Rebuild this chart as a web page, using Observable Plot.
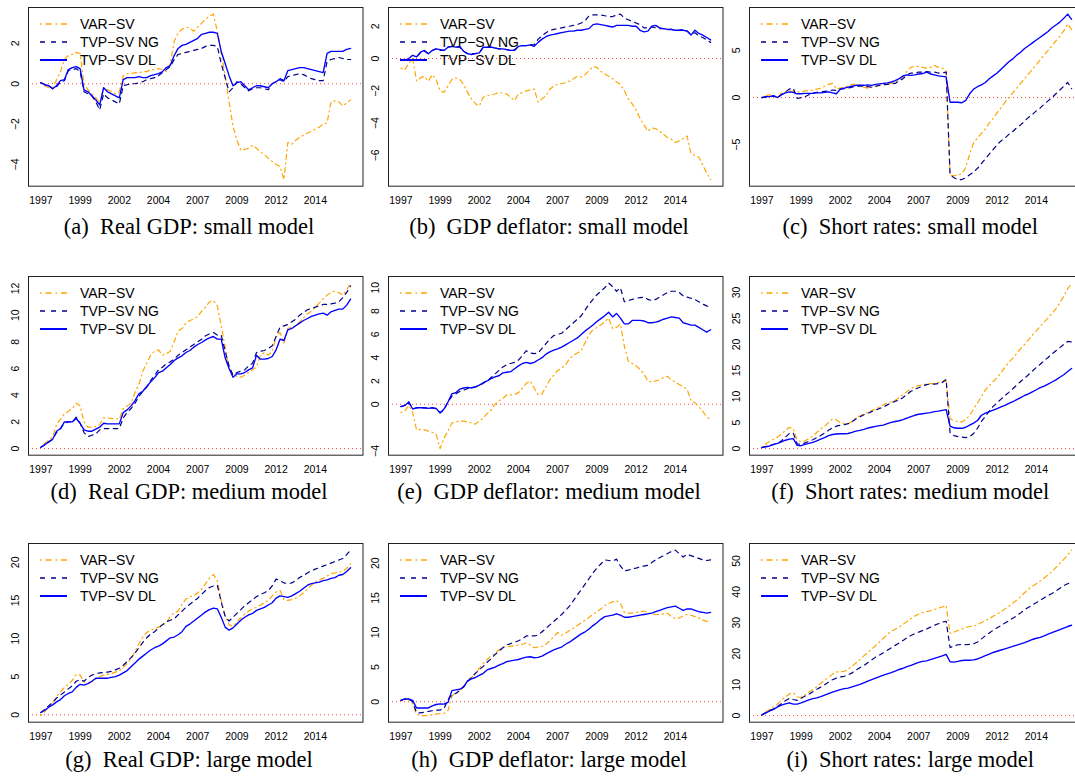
<!DOCTYPE html>
<html>
<head>
<meta charset="utf-8">
<script src="https://cdn.jsdelivr.net/npm/d3@7"></script>
<script src="https://cdn.jsdelivr.net/npm/@observablehq/plot@0.6"></script>
<style>
  html, body { margin: 0; padding: 0; background: #fff; overflow: hidden; }
  #root { position: relative; width: 1075px; height: 776px; overflow: hidden; }
  .panel { position: absolute; }
  .cap { position: absolute; font-family: "Liberation Serif", "Times New Roman", serif; font-size: 22.5px; line-height: 1; white-space: pre; color: #000; transform: translateX(-50%); }
</style>
</head>
<body>
<div id="root"></div>
<script>
// ---------- data (quarterly index 0 = 1997Q1 ... 79 = 2016Q4) ----------
const xLabels = ["1997","1999","2002","2004","2007","2009","2012","2014"];
const seriesNames = ["VAR\u2212SV", "TVP\u2212SV NG", "TVP\u2212SV DL"];

// (a) Real GDP: small model
const varSV_a = [0.05,-0.1,-0.2,-0.2,0.2,0.6,1.2,1.4,1.45,1.55,
1.5,0.0,-0.3,-0.5,-0.7,-0.95,-0.2,-0.3,-0.4,-0.5,
-0.4,0.4,0.5,0.5,0.55,0.55,0.6,0.6,0.7,0.7,
0.75,0.7,0.6,1.0,2.1,2.5,2.7,2.8,2.75,2.6,
2.8,3.0,3.2,3.35,3.45,2.6,1.5,0.4,-0.9,-2.1,
-2.8,-3.3,-3.25,-3.2,-3.05,-3.2,-3.4,-3.5,-3.7,-3.85,
-4.0,-4.1,-4.75,-2.9,-3.0,-2.8,-2.65,-2.55,-2.45,-2.35,
-2.25,-2.15,-2.0,-1.95,-0.9,-0.85,-0.9,-1.1,-0.95,-0.8];
const tvpNG_a = [0.05,-0.05,-0.1,-0.25,-0.15,0.1,0.15,0.65,0.7,0.75,
0.6,-0.4,-0.5,-0.6,-0.9,-1.3,-0.5,-0.7,-0.8,-0.9,
-1.0,-0.1,-0.05,0.0,0.0,0.05,0.1,0.2,0.25,0.3,
0.4,0.55,0.7,0.85,1.2,1.45,1.5,1.55,1.6,1.65,
1.7,1.75,1.85,1.9,1.9,1.85,1.0,0.3,-0.4,-0.2,
0.1,0.0,-0.2,-0.35,-0.25,-0.2,-0.2,-0.25,-0.3,0.0,
0.1,0.2,0.1,0.35,0.4,0.45,0.5,0.45,0.35,0.25,
0.2,0.15,0.15,1.1,1.2,1.25,1.3,1.25,1.2,1.2];
const tvpDL_a = [0.05,-0.05,-0.1,-0.25,-0.1,0.15,0.2,0.7,0.8,0.85,
0.75,-0.3,-0.4,-0.6,-0.8,-1.05,-0.2,-0.4,-0.5,-0.6,
-0.7,0.2,0.3,0.3,0.3,0.35,0.3,0.3,0.4,0.45,
0.5,0.6,0.8,0.9,1.4,1.75,1.9,1.95,2.05,2.15,
2.25,2.45,2.5,2.55,2.55,2.5,1.6,1.0,0.4,-0.1,
0.05,0.1,-0.1,-0.3,-0.2,-0.1,-0.1,-0.15,-0.2,0.0,
0.1,0.25,0.15,0.65,0.7,0.75,0.8,0.8,0.75,0.7,
0.65,0.6,0.55,1.5,1.6,1.6,1.6,1.6,1.7,1.75];

// (b) GDP deflator: small model
const varSV_b = [-0.6,-0.7,-0.3,0.0,-1.4,-1.2,-1.1,-1.4,-1.0,-1.3,
-2.0,-2.1,-1.7,-1.3,-1.2,-1.3,-1.6,-2.1,-2.5,-2.8,
-2.95,-2.4,-2.3,-2.25,-2.2,-2.1,-2.15,-2.2,-2.4,-2.6,
-2.2,-2.1,-2.0,-1.95,-1.9,-2.7,-2.5,-2.3,-1.9,-1.7,
-1.6,-1.55,-1.5,-1.4,-1.25,-1.1,-1.15,-1.0,-0.75,-0.5,
-0.55,-0.8,-0.95,-1.1,-1.25,-1.45,-1.6,-2.0,-2.5,-2.8,
-3.2,-3.7,-4.1,-4.5,-4.3,-4.35,-4.5,-4.7,-4.9,-5.0,
-5.2,-5.1,-4.95,-4.8,-5.9,-6.0,-6.1,-6.6,-7.1,-7.5];
const tvpNG_b = [-0.05,-0.1,-0.1,-0.1,0.1,0.35,0.45,0.3,0.5,0.6,
0.5,0.5,0.7,0.75,0.7,0.7,0.45,0.3,0.3,0.3,
0.35,0.7,0.7,0.7,0.65,0.6,0.6,0.55,0.5,0.55,
0.75,0.8,0.8,0.85,0.85,1.2,1.4,1.6,1.75,1.8,
1.85,1.9,1.95,2.0,2.05,2.1,2.2,2.35,2.65,2.7,
2.7,2.7,2.65,2.6,2.6,2.7,2.75,2.5,2.4,2.3,
2.2,2.1,1.9,1.9,1.95,1.9,1.85,1.85,1.8,1.8,
1.75,1.75,1.8,1.7,1.5,1.6,1.4,1.3,1.15,1.0];
const tvpDL_b = [-0.1,-0.1,0.0,0.2,0.1,0.4,0.5,0.3,0.5,0.6,
0.55,0.5,0.7,0.75,0.7,0.75,0.45,0.3,0.25,0.3,
0.35,0.7,0.7,0.7,0.65,0.6,0.6,0.55,0.5,0.5,
0.75,0.8,0.8,0.85,0.75,1.0,1.2,1.35,1.45,1.5,
1.55,1.6,1.65,1.7,1.7,1.75,1.75,1.8,1.85,2.1,
2.15,2.1,2.05,2.0,1.95,2.05,2.05,2.05,2.05,2.0,
2.0,1.75,1.65,1.7,2.0,2.05,1.9,1.85,1.8,1.8,
1.75,1.75,1.75,1.7,1.45,1.75,1.55,1.45,1.3,1.15];

// (c) Short rates: small model
const varSV_c = [0.0,0.2,0.3,0.1,0.0,0.5,0.6,0.7,0.65,0.6,
0.6,0.7,0.75,0.8,0.9,1.0,1.2,1.4,1.5,0.9,
1.0,1.1,1.2,1.4,1.4,1.3,1.1,1.0,1.1,1.2,
1.3,1.4,1.5,1.5,1.6,1.9,2.2,2.8,3.2,3.3,
3.3,3.2,3.1,3.2,3.4,3.2,3.1,2.9,-8.2,-8.3,
-8.2,-8.1,-7.4,-6.0,-4.8,-4.3,-3.8,-3.3,-2.7,-2.2,
-1.6,-1.1,-0.5,0.0,0.5,1.0,1.5,2.0,2.5,3.0,
3.5,4.0,4.5,5.0,5.5,6.0,6.5,7.1,7.8,7.2];
const tvpNG_c = [0.0,0.05,0.1,0.15,0.0,0.3,0.6,0.9,1.0,-0.1,
0.0,0.1,0.3,0.5,0.55,0.6,0.65,0.7,0.8,0.75,
0.9,0.95,1.0,1.1,1.2,1.2,1.2,1.15,1.1,1.2,
1.3,1.35,1.4,1.45,1.5,1.8,2.0,2.4,2.6,2.6,
2.7,2.7,2.75,2.7,2.7,2.6,2.6,2.7,-8.2,-8.5,
-8.7,-8.7,-8.5,-8.2,-7.9,-7.5,-7.0,-6.5,-6.0,-5.5,
-5.0,-4.6,-4.3,-3.9,-3.6,-3.2,-2.9,-2.5,-2.1,-1.8,
-1.4,-1.1,-0.7,-0.35,0.0,0.4,0.8,1.2,1.6,0.95];
const tvpDL_c = [0.0,0.1,0.1,0.2,0.0,0.3,0.5,0.6,0.55,0.4,
0.4,0.45,0.45,0.45,0.5,0.5,0.55,0.6,0.5,0.4,
0.9,1.0,1.1,1.2,1.3,1.3,1.3,1.35,1.3,1.4,
1.45,1.5,1.55,1.65,1.8,2.0,2.3,2.4,2.35,2.4,
2.5,2.55,2.7,2.5,2.4,2.3,2.25,2.2,-0.5,-0.5,
-0.5,-0.55,-0.3,0.4,0.9,1.15,1.35,1.6,2.0,2.3,
2.6,3.0,3.4,3.8,4.1,4.5,4.8,5.2,5.5,5.8,
6.1,6.4,6.7,7.0,7.4,7.7,8.0,8.4,8.85,8.3];

// (d) Real GDP: medium model
const varSV_d = [0.1,0.4,0.6,0.9,1.8,2.2,2.6,2.8,3.0,3.4,
3.2,2.0,1.6,1.6,1.65,1.8,2.3,2.3,2.25,2.25,
2.2,3.0,3.2,3.4,4.2,4.8,5.8,6.4,7.0,7.3,
7.4,7.0,7.1,7.3,8.0,8.8,9.0,9.4,9.6,9.7,
9.9,10.3,10.6,11.0,11.1,10.7,9.2,7.6,6.0,5.6,
5.4,5.35,5.5,5.7,5.9,6.1,7.0,7.2,7.0,7.3,
8.4,8.7,7.9,9.0,9.1,9.2,9.5,9.8,10.1,10.3,
10.6,10.9,11.2,11.5,11.7,11.8,11.7,11.5,11.9,12.4];
const tvpNG_d = [0.1,0.3,0.5,0.7,1.2,1.5,1.9,2.0,2.0,2.35,
1.9,1.2,0.9,1.0,1.1,1.4,1.5,1.5,1.5,1.5,
1.5,2.3,2.7,3.0,3.4,3.9,4.3,4.6,5.1,5.5,
5.9,6.1,6.35,6.5,6.7,7.0,7.2,7.4,7.6,7.8,
8.0,8.2,8.45,8.6,8.7,8.5,8.5,7.3,6.2,5.5,
5.7,5.8,5.9,6.2,6.4,7.2,7.3,7.35,7.5,7.7,
8.4,9.1,9.2,9.3,9.5,9.7,10.0,10.2,10.4,10.5,
10.6,10.7,10.8,10.8,10.85,10.9,11.0,11.3,11.7,12.2];
const tvpDL_d = [0.1,0.3,0.5,0.7,1.3,1.5,2.0,2.0,2.0,2.25,
1.9,1.4,1.3,1.3,1.45,1.6,1.9,1.85,1.85,1.85,
1.85,2.7,2.9,3.2,3.6,4.1,4.3,4.65,5.0,5.3,
5.7,5.8,6.05,6.3,6.6,6.8,6.95,7.2,7.35,7.6,
7.8,7.95,8.15,8.3,8.4,8.2,8.2,6.8,6.0,5.35,
5.6,5.6,5.7,5.9,6.05,7.0,6.7,6.7,6.75,6.9,
7.4,8.2,8.1,8.9,9.0,9.2,9.4,9.6,9.75,9.9,
10.0,10.1,10.15,10.0,10.25,10.35,10.45,10.45,10.75,11.2];

// (e) GDP deflator: medium model
const varSV_e = [-0.7,-0.6,-0.1,-0.7,-2.2,-2.15,-2.2,-2.3,-2.4,-2.6,
-3.8,-2.9,-2.3,-1.6,-1.5,-1.45,-1.45,-1.5,-1.6,-1.7,
-1.4,-1.2,-0.8,-0.5,0.0,0.3,0.5,0.8,0.8,0.85,
1.0,1.4,1.8,2.0,1.4,0.8,0.9,1.5,2.1,2.5,
2.9,3.1,3.4,3.9,4.2,4.4,4.6,5.3,6.0,6.4,
6.6,6.8,7.1,7.4,6.5,6.6,6.9,5.0,3.7,3.5,
3.3,3.0,2.6,2.0,1.9,2.0,2.1,2.3,2.4,2.1,
1.9,1.7,1.5,1.3,0.3,0.15,-0.2,-0.6,-1.1,-1.3];
const tvpNG_e = [-0.2,-0.1,0.2,-0.4,-0.3,-0.3,-0.3,-0.35,-0.3,-0.4,
-0.7,-0.5,0.2,0.7,0.9,1.1,1.2,1.35,1.45,1.5,
1.6,1.8,2.0,2.3,2.6,2.9,3.2,3.4,3.5,3.6,
3.8,4.2,4.6,4.4,4.35,4.4,4.8,5.2,5.6,5.9,
6.0,6.1,6.4,6.7,7.0,7.3,7.6,8.1,8.6,9.0,
9.4,9.7,10.0,10.4,10.1,9.7,10.0,8.8,8.9,9.0,
9.1,9.15,9.2,9.0,8.9,9.0,9.2,9.4,9.6,9.7,
9.7,9.6,9.3,9.2,9.1,9.0,8.8,8.6,8.45,8.3];
const tvpDL_e = [-0.2,-0.1,0.2,-0.4,-0.3,-0.3,-0.3,-0.35,-0.3,-0.35,
-0.75,-0.4,0.2,0.9,1.0,1.3,1.4,1.45,1.4,1.5,
1.65,1.85,2.0,2.2,2.35,2.45,2.7,2.75,2.8,3.05,
3.3,3.5,3.6,3.5,3.6,3.8,4.0,4.3,4.5,4.65,
4.75,4.9,5.1,5.3,5.5,5.7,6.0,6.3,6.55,6.8,
7.1,7.35,7.6,7.9,7.5,7.8,7.4,6.9,6.9,7.2,
7.2,7.2,7.15,7.0,7.0,7.05,7.15,7.3,7.4,7.5,
7.45,7.4,7.0,6.9,6.8,6.8,6.6,6.4,6.2,6.4];

// (f) Short rates: medium model
const varSV_f = [0.2,0.9,1.4,1.8,2.2,2.8,3.5,4.1,3.8,1.6,
1.3,1.5,1.9,2.4,3.1,3.8,4.3,5.0,5.7,5.5,
5.0,4.85,4.75,5.2,5.9,6.3,6.6,7.0,7.3,7.6,
8.0,8.4,8.8,9.0,9.3,9.8,10.4,10.9,11.5,11.9,
12.1,12.3,12.4,12.5,12.5,12.7,12.9,13.0,5.8,5.3,
5.2,5.1,5.6,6.4,7.6,8.8,10.0,11.3,12.1,12.9,
13.6,14.6,15.6,16.6,17.4,18.3,19.2,20.0,20.9,21.8,
22.6,23.5,24.3,25.1,26.0,26.9,28.0,29.3,30.7,31.8];
const tvpNG_f = [0.2,0.4,0.6,0.8,1.0,1.5,2.2,2.9,3.0,0.9,
0.8,1.1,1.4,1.7,2.1,2.5,3.0,3.5,4.0,4.3,
4.5,4.6,4.8,5.2,5.7,6.1,6.5,6.8,7.1,7.4,
7.7,8.0,8.4,8.8,9.1,9.3,9.8,10.4,11.0,11.4,
11.7,12.0,12.3,12.4,12.4,12.5,12.7,13.3,3.0,2.5,
2.3,2.2,2.1,2.3,2.9,3.9,5.2,6.2,7.2,8.1,
8.8,9.5,10.2,10.8,11.5,12.2,12.9,13.5,14.2,14.9,
15.6,16.2,16.9,17.5,18.2,18.8,19.4,20.0,20.6,20.5];
const tvpDL_f = [0.2,0.35,0.5,0.8,1.0,1.3,1.6,1.8,1.9,0.6,
0.55,0.8,1.0,1.2,1.5,1.8,2.1,2.5,2.7,2.8,
2.85,2.85,2.9,3.1,3.35,3.5,3.7,3.95,4.1,4.25,
4.4,4.5,4.8,5.05,5.2,5.35,5.55,5.85,6.15,6.4,
6.6,6.7,6.8,6.9,7.1,7.2,7.35,7.5,4.3,4.0,
3.9,3.9,4.1,4.5,4.9,5.4,6.4,6.8,7.1,7.4,
7.7,8.0,8.3,8.7,9.0,9.4,9.8,10.2,10.5,10.9,
11.3,11.7,12.0,12.4,12.8,13.2,13.7,14.2,14.8,15.4];

// (g) Real GDP: large model
const varSV_g = [-0.1,0.4,1.1,1.6,2.4,3.0,3.6,4.0,4.5,5.3,
5.2,4.3,4.1,4.3,4.7,5.0,5.2,5.3,5.4,5.6,
5.8,6.2,6.8,7.3,8.3,9.3,10.2,10.8,11.1,11.3,
11.5,11.7,12.1,12.9,13.4,13.6,14.5,15.2,15.5,15.6,
16.0,16.5,17.2,17.9,18.4,17.6,15.0,13.0,11.8,11.6,
12.2,12.7,13.2,13.6,13.9,14.1,14.4,14.7,15.0,15.6,
16.1,16.3,15.1,15.0,15.1,15.3,15.6,16.0,16.5,17.0,
17.4,17.7,17.9,18.2,18.5,18.6,18.7,18.8,19.2,19.8];
const tvpNG_g = [0.3,0.7,1.2,1.6,2.2,2.6,3.0,3.4,3.8,4.4,
4.6,4.4,4.9,5.2,5.4,5.5,5.55,5.6,5.7,5.9,
6.1,6.5,7.0,7.5,8.1,8.8,9.5,10.1,10.6,10.9,
11.4,11.8,12.2,12.4,12.6,13.1,13.6,14.1,14.5,14.9,
15.3,15.8,16.3,16.7,16.9,17.0,14.8,12.9,12.3,12.8,
13.3,13.8,14.3,14.7,15.1,15.5,15.8,16.0,16.3,16.9,
17.8,17.6,17.3,17.2,17.3,17.6,18.0,18.3,18.6,18.9,
19.1,19.3,19.5,19.7,19.9,20.1,20.3,20.5,21.0,21.6];
const tvpDL_g = [0.3,0.6,1.0,1.3,1.7,2.0,2.5,2.8,3.0,3.6,
4.0,3.9,4.1,4.4,4.8,4.8,4.8,4.8,4.9,5.0,
5.2,5.5,5.8,6.3,6.8,7.3,7.7,8.1,8.5,8.8,
9.0,9.3,9.7,10.1,10.2,10.5,10.9,11.6,11.9,12.3,
12.7,13.1,13.5,13.8,14.0,13.9,12.8,11.5,11.1,11.4,
11.9,12.4,12.8,13.1,13.3,13.7,13.9,14.1,14.4,14.7,
15.3,15.6,15.5,15.4,15.6,15.9,16.2,16.6,17.0,17.2,
17.3,17.4,17.6,17.7,17.9,18.0,18.3,18.4,18.8,19.3];

// (h) GDP deflator: large model
const varSV_h = [0.1,0.4,0.3,-0.3,-1.8,-2.0,-2.0,-2.0,-1.9,-1.8,
-1.7,-1.7,-1.3,0.8,1.3,1.5,2.2,3.0,3.5,4.1,
4.8,5.5,6.1,6.6,7.0,7.5,7.8,8.0,8.0,8.1,
8.2,8.3,8.5,8.2,7.8,7.9,8.0,8.3,8.8,9.4,
10.0,9.6,9.9,10.3,10.6,11.0,11.4,11.8,12.2,12.6,
13.0,13.4,13.9,14.2,14.4,14.6,14.2,12.9,12.8,12.8,
12.9,13.0,13.1,12.9,12.7,12.6,12.6,12.7,12.8,12.3,
12.0,12.1,12.4,12.6,12.5,12.3,12.1,11.8,11.6,11.7];
const tvpNG_h = [0.2,0.4,0.4,0.0,-1.6,-1.6,-1.5,-1.4,-1.3,-1.2,
-1.2,-1.0,0.3,1.0,1.2,1.6,2.2,2.9,3.5,4.1,
4.6,5.1,5.7,6.2,6.8,7.3,7.8,8.2,8.4,8.6,
8.8,9.1,9.5,9.5,9.5,9.6,10.1,10.6,11.1,11.6,
12.1,12.6,13.2,13.8,14.6,15.4,16.2,17.0,17.8,18.6,
19.3,19.9,20.5,20.4,20.3,20.6,19.6,18.9,19.0,19.2,
19.3,19.5,19.6,19.7,20.1,20.5,20.8,21.1,21.4,21.7,
21.9,21.4,20.9,21.3,21.1,20.9,20.7,20.5,20.4,20.5];
const tvpDL_h = [0.2,0.4,0.4,0.2,-0.9,-0.9,-0.9,-0.9,-0.6,-0.4,
-0.3,-0.35,-0.1,1.6,1.7,1.8,2.1,3.0,3.3,3.5,
3.8,4.1,4.6,4.8,5.0,5.3,5.5,5.8,5.9,6.0,
6.1,6.3,6.45,6.5,6.35,6.4,6.6,6.9,7.2,7.5,
7.7,7.9,8.3,8.6,9.0,9.4,9.8,10.1,10.5,11.0,
11.4,11.9,12.3,12.4,12.5,12.7,12.5,12.2,12.2,12.3,
12.4,12.5,12.6,12.7,12.8,13.0,13.2,13.4,13.6,13.7,
13.8,13.5,13.2,13.4,13.4,13.2,13.0,12.9,12.8,12.9];

// (i) Short rates: large model
const varSV_i = [0.2,1.2,2.0,2.8,3.8,5.0,6.0,7.0,7.4,6.0,
5.9,6.6,7.6,8.4,9.3,10.4,11.4,12.4,13.4,14.1,
14.2,14.3,15.0,15.9,17.0,18.1,19.3,20.4,21.5,22.6,
23.8,25.0,26.3,27.2,27.9,28.6,29.5,30.4,31.3,32.2,
32.8,33.3,33.6,33.9,34.3,34.7,35.1,35.6,26.6,27.0,
27.5,28.0,28.5,28.8,28.9,29.4,30.1,30.7,31.4,32.1,
32.8,33.6,34.5,35.4,36.4,37.3,38.5,39.7,40.9,41.8,
42.6,43.5,44.5,45.5,46.6,47.9,49.2,50.5,52.0,53.5];
const tvpNG_i = [0.2,1.0,1.6,2.2,3.0,3.8,4.8,5.6,5.2,4.9,
5.6,6.3,6.9,7.7,8.5,9.2,10.0,10.8,11.6,12.1,
12.5,12.7,13.2,13.8,14.7,15.5,16.2,17.1,18.0,18.9,
19.6,20.3,21.1,21.9,22.7,23.5,24.3,25.1,25.9,26.5,
27.0,27.5,28.0,28.6,29.2,29.7,30.2,30.5,22.0,22.5,
22.9,23.0,22.9,23.0,23.2,23.8,24.8,25.8,26.7,27.6,
28.4,29.1,29.9,30.7,31.5,32.3,33.2,34.2,35.0,35.8,
36.5,37.3,38.1,38.8,39.5,40.3,41.2,42.0,42.6,43.2];
const tvpDL_i = [0.2,0.9,1.5,2.0,2.8,3.4,3.8,4.1,3.7,3.7,
4.1,4.6,5.1,5.5,5.7,6.1,6.6,7.1,7.6,8.0,
8.4,8.7,8.9,9.3,9.7,10.1,10.6,11.1,11.6,12.1,
12.6,13.1,13.5,13.9,14.4,14.9,15.3,15.8,16.2,16.7,
17.2,17.5,17.7,18.1,18.5,18.9,19.3,19.8,17.4,17.3,
17.5,17.8,17.9,17.9,18.0,18.3,18.8,19.4,19.9,20.4,
20.8,21.2,21.6,22.0,22.4,22.8,23.2,23.6,24.1,24.6,
25.0,25.3,25.8,26.3,26.8,27.3,27.8,28.3,28.8,29.2];

const panelTitles = ["Real GDP: small model","GDP deflator: small model","Short rates: small model",
  "Real GDP: medium model","GDP deflator: medium model","Short rates: medium model",
  "Real GDP: large model","GDP deflator: large model","Short rates: large model"];
const panelLetters = ["a","b","c","d","e","f","g","h","i"];
const yTicks = [[-4,-2,0,2],[-6,-4,-2,0,2],[-5,0,5],
  [0,2,4,6,8,10,12],[-4,0,2,4,6,8,10],[0,5,10,15,20,25,30],
  [0,5,10,15,20],[0,5,10,15,20],[0,10,20,30,40,50]];
const varSV = [varSV_a,varSV_b,varSV_c,varSV_d,varSV_e,varSV_f,varSV_g,varSV_h,varSV_i];
const tvpNG = [tvpNG_a,tvpNG_b,tvpNG_c,tvpNG_d,tvpNG_e,tvpNG_f,tvpNG_g,tvpNG_h,tvpNG_i];
const tvpDL = [tvpDL_a,tvpDL_b,tvpDL_c,tvpDL_d,tvpDL_e,tvpDL_f,tvpDL_g,tvpDL_h,tvpDL_i];

// ---------- styles ----------
const styles = [
  {color: "#FFA500", dash: "1.2,3.6,4.8,3.6", width: 1.2},
  {color: "#00008B", dash: "4.5,4.5", width: 1.2},
  {color: "#0000FF", dash: null, width: 1.35}
];
const legendStyles = [
  {color: "#FFA500", dash: "1.5,4,6,4", width: 1.3},
  {color: "#00008B", dash: "5,6", width: 1.3},
  {color: "#0000FF", dash: null, width: 2}
];

// ---------- layout ----------
const boxLeft = [28, 388, 749.3];
const boxTop = [7.3, 275.7, 543.3];
const capBase = [234.3, 499.3, 767.7];
const mL = 28, mT = 7, mR = 1, mB = 25, boxW = 334.5, boxH = 178.7;
const nQ = 80;
const xPad = (nQ - 1) * 0.04;

function legendMark() {
  return (index, scales, values, d) => {
    const g = d3.create("svg:g").attr("text-anchor", "start");
    seriesNames.forEach((name, k) => {
      const st = legendStyles[k];
      const y = d.marginTop + 17 + k * 18;
      const ln = g.append("line")
        .attr("x1", d.marginLeft + 12).attr("x2", d.marginLeft + 39)
        .attr("y1", y).attr("y2", y)
        .attr("stroke", st.color).attr("stroke-width", st.width);
      if (st.dash) ln.attr("stroke-dasharray", st.dash);
      g.append("text")
        .attr("x", d.marginLeft + 52).attr("y", y).attr("dy", "0.36em")
        .attr("text-anchor", "start")
        .attr("font-size", 14).attr("fill", "#000")
        .text(name);
    });
    return g.node();
  };
}

const root = document.getElementById("root");
for (let p = 0; p < 9; p++) {
  const row = Math.floor(p / 3), col = p % 3;
  const all = [...varSV[p], ...tvpNG[p], ...tvpDL[p], 0];
  const lo = d3.min(all), hi = d3.max(all);
  const pad = (hi - lo) * 0.04;
  const series = [varSV[p], tvpNG[p], tvpDL[p]];
  const marks = [
    Plot.ruleY([0], {stroke: "#ff3b3b", strokeDasharray: "1,3", strokeWidth: 1}),
    ...series.map((s, k) => Plot.line(s, {
      x: (d, i) => i, y: d => d,
      stroke: styles[k].color, strokeWidth: styles[k].width,
      strokeDasharray: styles[k].dash || undefined
    })),
    Plot.text(yTicks[p], {
      y: d => d, text: d => (d < 0 ? "\u2212" + Math.abs(d) : String(d)),
      frameAnchor: "left", dx: -13, rotate: -90,
      textAnchor: "middle", lineAnchor: "middle", fontSize: 10.5, fill: "#000"
    }),
    legendMark(),
    Plot.frame({stroke: "#222", strokeWidth: 1})
  ];
  const chart = Plot.plot({
    width: mL + boxW + mR,
    height: mT + boxH + mB,
    marginLeft: mL, marginTop: mT, marginRight: mR, marginBottom: mB,
    style: {fontFamily: "'Liberation Sans', Arial, sans-serif", fontSize: "10.5px", background: "transparent", maxWidth: "none", overflow: "visible", color: "#000"},
    x: {domain: [-xPad, nQ - 1 + xPad], ticks: xLabels.map((_, j) => j * 10),
        tickFormat: v => xLabels[v / 10], tickSize: 0, tickPadding: 10, label: null},
    y: {domain: [lo - pad, hi + pad], axis: null},
    marks
  });
  const div = document.createElement("div");
  div.className = "panel";
  div.style.left = (boxLeft[col] - mL) + "px";
  div.style.top = (boxTop[row] - mT) + "px";
  div.style.width = (mL + boxW + mR) + "px";
  div.appendChild(chart);
  root.appendChild(div);

  const cap = document.createElement("div");
  cap.className = "cap";
  cap.textContent = "(" + panelLetters[p] + ")\u2002" + panelTitles[p];
  cap.style.left = (boxLeft[col] - mL + 189) + "px";
  cap.style.top = (capBase[row] - 18.8) + "px";
  root.appendChild(cap);
}
</script>
</body>
</html>
